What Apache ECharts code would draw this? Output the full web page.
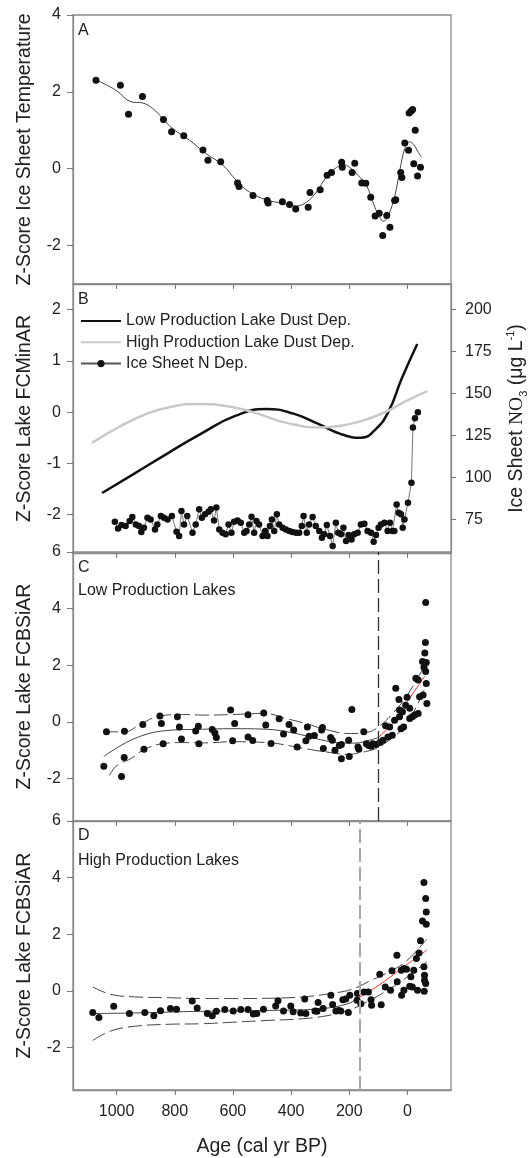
<!DOCTYPE html>
<html>
<head>
<meta charset="utf-8">
<script src="https://cdn.jsdelivr.net/npm/echarts@6.0.0/dist/echarts.min.js"></script>
<style>
  html, body { margin: 0; padding: 0; background: #fff; }
  #chart { width: 530px; height: 1158px; }
</style>
</head>
<body>
<div id="chart"></div>
<script>
// ---- Panel A: ice sheet temperature ----
const tempAge = [1071, 987, 959, 911, 839, 811, 769, 703, 686, 642, 584, 579, 531, 482, 479, 430, 405, 384, 341, 335, 300, 276, 261, 226, 224, 181, 190, 157, 143, 126, 111, 97, 85, 71, 60, 44, 40, 23, 19, 9, -4, -6, -18, -27, -22, -35, -45, -13];
const tempZ = [2.30, 2.17, 1.42, 1.88, 1.28, 0.96, 0.86, 0.49, 0.22, 0.18, -0.37, -0.46, -0.70, -0.83, -0.89, -0.86, -0.93, -1.05, -1.00, -0.62, -0.55, -0.17, -0.10, 0.17, 0.04, 0.14, -0.10, -0.37, -0.38, -0.74, -1.23, -1.16, -1.74, -1.22, -1.52, -0.83, -0.81, -0.10, -0.23, 0.67, 0.48, 1.45, 1.54, 1.00, 0.13, -0.19, 0.04, 1.50];
const tempFitAge = [1065, 1002, 950, 910, 876, 841, 807, 749, 692, 634, 589, 543, 485, 428, 382, 347, 313, 279, 244, 221, 198, 170, 141, 112, 95, 83, 66, 43, 26, 9, -8, -22, -37, -49];
const tempFitZ = [2.29, 2.04, 1.74, 1.71, 1.57, 1.30, 1.04, 0.74, 0.39, 0.09, -0.30, -0.61, -0.81, -0.90, -0.97, -0.87, -0.61, -0.22, 0.03, 0.11, 0.03, -0.17, -0.43, -1.00, -1.26, -1.37, -1.22, -0.70, -0.04, 0.52, 0.70, 0.63, 0.43, 0.30];

// ---- Panel B: dust deposition + ice sheet NO3 ----
const lowDustAge = [1050, 939, 823, 706, 590, 485, 392, 310, 228, 159, 112, 65, 19, -34];
const lowDustZ = [-1.58, -1.20, -0.80, -0.41, -0.07, 0.06, -0.03, -0.22, -0.43, -0.50, -0.35, 0.01, 0.66, 1.33];
const highDustAge = [1085, 998, 904, 823, 718, 613, 520, 415, 298, 205, 124, 65, 7, -69];
const highDustZ = [-0.60, -0.31, -0.05, 0.09, 0.16, 0.11, -0.02, -0.21, -0.30, -0.24, -0.11, 0.03, 0.21, 0.41];
const nAge = [1006, 995, 983, 969, 955, 946, 934, 923, 915, 906,
  894, 883, 868, 860, 848, 837, 825, 810, 794, 785,
  777, 768, 757, 739, 728, 716, 707, 696, 684, 676,
  665, 657, 647, 636, 625, 615, 605, 596, 584, 573,
  561, 553, 544, 536, 527, 519, 510, 498, 489, 481,
  473, 466, 458, 449, 441, 429, 418, 406, 395, 383,
  372, 363, 357, 346, 338, 326, 315, 303, 294, 286,
  277, 266, 257, 246, 238, 228, 220, 211, 202, 192,
  183, 171, 160, 148, 137, 125, 116, 108, 99, 91,
  79, 68, 60, 51, 45, 37, 30, 22, 16, 10,
  -2, -14, -19, -26, -36];
const nNO3 = [73.6, 69.6, 71.6, 71.0, 74.0, 76.4, 72.0, 71.0, 67.5, 70.0,
  76.0, 75.0, 69.0, 72.0, 77.0, 76.0, 75.0, 77.0, 67.7, 65.1,
  80.0, 72.0, 77.0, 67.1, 72.0, 81.0, 76.0, 78.0, 79.6, 81.0,
  74.4, 82.0, 69.0, 67.1, 66.1, 72.0, 67.1, 73.6, 74.4, 73.0,
  67.1, 68.1, 72.0, 76.6, 67.1, 74.0, 72.0, 65.1, 68.1, 65.1,
  71.0, 75.0, 68.1, 78.0, 72.0, 70.0, 69.0, 68.1, 67.5, 67.1,
  67.1, 71.0, 77.0, 67.1, 72.0, 76.4, 71.0, 68.1, 64.1, 66.1,
  71.6, 65.1, 59.1, 73.0, 67.1, 66.1, 70.0, 62.1, 65.7, 63.1,
  66.1, 67.1, 72.0, 72.4, 68.1, 67.1, 61.7, 65.7, 70.0, 72.0,
  73.0, 68.1, 73.0, 68.1, 68.1, 83.9, 79.0, 78.0, 70.0, 75.0,
  84.9, 96.8, 129.6, 135.1, 138.7];

// ---- Panel C: low production lakes BSiAR ----
const lowAge = [1044, 1035, 983, 973, 974, 910, 906, 851, 846, 840, 791, 784, 777, 728, 719, 717, 671, 662, 657, 608,
  594, 601, 548, 548, 532, 494, 487, 469, 441, 426, 407, 391, 379, 344, 349, 338, 320, 295, 292, 289,
  264, 258, 249, 234, 227, 227, 202, 200, 191, 170, 167, 150, 141, 133, 124, 119, 107, 95, 84, 75,
  67, 61, 52, 44, 40, 29, 27, 27, 22, 17, 13, 6, 1, -8, -8, -17, -25, -29, -37, -37,
  -42, -52, -54, -57, -60, -62, -63, -63, -65, -65, -67];
const lowZ = [-1.57, -0.35, -1.93, -0.33, -1.26, -0.09, -0.97, 0.21, -0.06, -0.77, 0.18, -0.18, -0.60, -0.32, -0.15, -0.77, -0.27, -0.39, -0.55, 0.42,
  -0.06, -0.67, 0.25, -0.53, -0.66, 0.31, -0.11, -0.76, 0.11, -0.43, -0.09, -0.29, -0.89, -0.18, -0.67, -0.51, -0.48, -0.29, -0.20, -0.94,
  -0.55, -0.65, -1.00, -0.83, -0.80, -1.30, -0.65, -1.22, 0.44, -0.89, -0.97, -0.35, -0.77, -0.83, -0.86, -0.77, -0.80, -0.73, -0.65, -0.14,
  -0.53, -0.18, -0.47, 0.06, 1.19, 0.79, 0.42, 0.18, -0.24, 0.36, -0.18, 0.59, 0.87, 0.48, 0.12, 0.18, 0.24, 1.54, 1.48, 0.30,
  0.89, 2.13, 0.95, 1.93, 2.43, 2.80, 4.22, 1.78, 2.10, 1.36, 0.65];
const lowFitAge = [1044, 939, 823, 706, 590, 485, 392, 298, 240, 182, 124, 100];
const lowFitZ = [-1.22, -0.59, -0.30, -0.26, -0.24, -0.26, -0.39, -0.63, -0.73, -0.75, -0.63, -0.55];
const lowUpperAge = [1044, 970, 924, 855, 774, 694, 602, 493, 418, 349, 280, 200, 135, 100, 50, 0, -60];
const lowUpperZ = [-0.35, -0.35, -0.12, 0.20, 0.26, 0.24, 0.26, 0.30, 0.12, -0.06, -0.27, -0.41, -0.36, -0.18, 0.30, 0.95, 2.00];
const lowLowerAge = [1025, 998, 952, 906, 843, 774, 694, 602, 469, 407, 349, 280, 200, 170, 124, 100, 50, 0, -60];
const lowLowerZ = [-1.89, -1.53, -1.30, -0.98, -0.77, -0.73, -0.74, -0.70, -0.74, -0.84, -0.95, -1.06, -1.15, -1.10, -1.00, -0.90, -0.55, -0.05, 1.20];
const lowRecentAge = [100, 50, 15, -20, -60];
const lowRecentZ = [-0.55, -0.05, 0.50, 1.02, 1.62];
const lowBreak = 100;

// ---- Panel D: high production lakes BSiAR ----
const highAge = [1082, 1061, 1010, 956, 903, 872, 849, 815, 794, 740, 723, 688, 671, 657, 628, 599, 573, 548, 530, 518,
  495, 453, 445, 426, 401, 393, 367, 353, 349, 318, 311, 307, 290, 263, 257, 246, 236, 229, 222, 212,
  203, 198, 173, 172, 160, 149, 134, 125, 123, 95, 90, 76, 58, 53, 36, 35, 21, 20, 12, 12,
  3, -8, -12, -17, -22, -31, -35, -40, -45, -52, -57, -57, -58, -59, -59, -63, -63, -65, -65];
const highZ = [-0.76, -0.94, -0.54, -0.80, -0.76, -0.88, -0.70, -0.62, -0.65, -0.36, -0.60, -0.80, -0.88, -0.72, -0.66, -0.71, -0.66, -0.66, -0.82, -0.80,
  -0.65, -0.53, -0.35, -0.71, -0.53, -0.74, -0.78, -0.29, -0.80, -0.71, -0.72, -0.41, -0.62, -0.15, -0.48, -0.71, -0.69, -0.71, -0.31, -0.29,
  -0.76, -0.15, -0.33, -0.09, -0.45, -0.04, -0.04, -0.31, -0.51, 0.59, -0.49, 0.14, 0.02, 0.71, 1.26, 0.32, 0.73, -0.15, 0.02, 0.79,
  0.76, 0.16, 0.50, 0.14, 0.73, 1.14, 0.02, 1.34, 1.77, 2.47, 3.83, 0.85, -0.01, 0.55, 0.38, 3.26, 0.26, 2.79, 2.35];
const highFitAge = [1082, 939, 706, 473, 298, 204, 165];
const highFitZ = [-0.80, -0.78, -0.72, -0.69, -0.63, -0.45, -0.23];
const highUpperAge = [1082, 1021, 939, 823, 706, 589, 473, 356, 263, 193, 123, 64, 6, -67];
const highUpperZ = [0.14, -0.12, -0.21, -0.24, -0.27, -0.27, -0.26, -0.21, -0.09, 0.05, 0.38, 0.67, 1.03, 1.83];
const highLowerAge = [1082, 1021, 939, 823, 706, 589, 473, 356, 263, 193, 123, 64, 6, -67];
const highLowerZ = [-1.75, -1.42, -1.25, -1.18, -1.16, -1.10, -1.04, -0.98, -0.85, -0.65, -0.30, 0.05, 0.45, 1.03];
const highRecentAge = [165, 110, 64, 6, -67];
const highRecentZ = [-0.23, 0.12, 0.45, 0.90, 1.44];
const highBreak = 165;

// ---- axis ticks ----
const ageTicks = [0, 200, 400, 600, 800, 1000];
const tempTicks = [-2, 0, 2, 4];
const dustTicks = [-2, -1, 0, 1, 2];
const no3Ticks = [75, 100, 125, 150, 175, 200];
const bsiTicks = [-2, 0, 2, 4, 6];

const FONT = '"Liberation Sans", Arial, sans-serif';
const frameColor = '#8a8a8a';
const textColor = '#222';
const zip = (xs, ys) => xs.map((x, i) => [x, ys[i]]);

const chart = echarts.init(document.getElementById('chart'));

// four stacked panels sharing the same age axis
const grid = [15, 284, 552, 821].map(top => ({
  left: 73, right: 79, top: top, height: 269, outerBoundsMode: 'none',
  show: true, borderColor: frameColor, borderWidth: 1.3
}));

const xAxis = [0, 1, 2, 3].map(i => ({
  type: 'value', gridIndex: i, min: -150, max: 1150, inverse: true,
  axisLine: { show: true, onZero: false, lineStyle: { color: frameColor, width: 1.3 } },
  axisTick: { show: true, inside: false, length: 5, customValues: ageTicks, lineStyle: { color: '#777' } },
  axisLabel: {
    show: i === 3, customValues: ageTicks, fontSize: 16, color: textColor, fontFamily: FONT, margin: 14,
    formatter: v => String(v)
  },
  splitLine: { show: false },
  name: i === 3 ? 'Age (cal yr BP)' : '',
  nameLocation: 'middle', nameGap: 47,
  nameTextStyle: { fontSize: 19.5, color: textColor, fontFamily: FONT }
}));

function leftAxis(gridIndex, min, max, ticks, name) {
  return {
    type: 'value', gridIndex, min, max, position: 'left',
    axisLine: { show: true, onZero: false, lineStyle: { color: frameColor, width: 1.3 } },
    axisTick: { show: true, inside: false, length: 6, customValues: ticks, lineStyle: { color: '#777' } },
    axisLabel: { customValues: ticks, fontSize: 16, color: textColor, fontFamily: FONT, margin: 12 },
    splitLine: { show: false },
    name, nameLocation: 'middle', nameRotate: 90, nameGap: 38.5,
    nameTextStyle: { fontSize: 19.5, color: textColor, fontFamily: FONT }
  };
}

const yAxis = [
  leftAxis(0, -3, 4, tempTicks, 'Z-Score Ice Sheet Temperature'),
  leftAxis(1, -2.75, 2.5, dustTicks, 'Z-Score Lake FCMinAR'),
  {
    type: 'value', gridIndex: 1, min: 55, max: 215, position: 'right',
    axisLine: { show: true, onZero: false, lineStyle: { color: frameColor, width: 1.3 } },
    axisTick: { show: true, inside: false, length: 5, customValues: no3Ticks, lineStyle: { color: '#777' } },
    axisLabel: { customValues: no3Ticks, fontSize: 16, color: textColor, fontFamily: FONT, margin: 14 },
    splitLine: { show: false },
    name: '{a|Ice Sheet }{n|NO}{sub|3}{a| (\u03bcg L}{sup|-1}{a|)}',
    nameLocation: 'middle', nameRotate: 90, nameGap: 54,
    nameTextStyle: {
      rich: {
        a: { fontSize: 19.5, fontFamily: FONT, color: textColor, lineHeight: 24 },
        n: { fontSize: 19.5, fontFamily: '"Liberation Serif", serif', color: textColor, lineHeight: 24 },
        sub: { fontSize: 11, fontFamily: FONT, color: textColor, lineHeight: 24, verticalAlign: 'bottom' },
        sup: { fontSize: 11, fontFamily: FONT, color: textColor, lineHeight: 24, verticalAlign: 'top' }
      }
    }
  },
  leftAxis(2, -3.5, 6, bsiTicks, 'Z-Score Lake FCBSiAR'),
  leftAxis(3, -3.5, 6, bsiTicks, 'Z-Score Lake FCBSiAR')
];

function fitLine(xi, yi, xs, ys, color, dashed, width) {
  return {
    type: 'line', xAxisIndex: xi, yAxisIndex: yi, data: zip(xs, ys),
    smooth: 0.4, symbol: 'none', silent: true, z: 2,
    lineStyle: { color, width: width || 1, type: dashed ? [14, 5] : 'solid' }
  };
}
function dots(xi, yi, xs, ys) {
  return {
    type: 'scatter', xAxisIndex: xi, yAxisIndex: yi, data: zip(xs, ys),
    symbolSize: 7, itemStyle: { color: '#111', opacity: 1 }, z: 4, silent: true
  };
}
function breakLine(xi, yi, at, color, width) {
  return {
    type: 'line', xAxisIndex: xi, yAxisIndex: yi, data: [], silent: true,
    markLine: {
      silent: true, symbol: 'none', label: { show: false },
      lineStyle: { color, width, type: [14, 5] },
      data: [{ xAxis: at }]
    }
  };
}

const series = [
  // A
  fitLine(0, 0, tempFitAge, tempFitZ, '#444', false, 1),
  dots(0, 0, tempAge, tempZ),
  // B
  {
    name: 'Low Production Lake Dust Dep.', type: 'line', xAxisIndex: 1, yAxisIndex: 1,
    data: zip(lowDustAge, lowDustZ), smooth: 0.5, symbol: 'none',
    lineStyle: { color: '#111', width: 2.5 }, itemStyle: { color: '#111' }
  },
  {
    name: 'High Production Lake Dust Dep.', type: 'line', xAxisIndex: 1, yAxisIndex: 1,
    data: zip(highDustAge, highDustZ), smooth: 0.5, symbol: 'none',
    lineStyle: { color: '#c8c8c8', width: 2.5 }, itemStyle: { color: '#c8c8c8' }
  },
  {
    name: 'Ice Sheet N Dep.', type: 'line', xAxisIndex: 1, yAxisIndex: 2,
    data: zip(nAge, nNO3), symbol: 'circle', symbolSize: 6.5, showSymbol: true,
    lineStyle: { color: '#555', width: 0.8 }, itemStyle: { color: '#111', opacity: 1 }, z: 4
  },
  // C
  fitLine(2, 3, lowFitAge, lowFitZ, '#444', false, 1),
  fitLine(2, 3, lowUpperAge, lowUpperZ, '#444', true, 1),
  fitLine(2, 3, lowLowerAge, lowLowerZ, '#444', true, 1),
  fitLine(2, 3, lowRecentAge, lowRecentZ, '#e8322c', false, 1),
  breakLine(2, 3, lowBreak, '#333', 1.3),
  dots(2, 3, lowAge, lowZ),
  // D
  fitLine(3, 4, highFitAge, highFitZ, '#444', false, 1),
  fitLine(3, 4, highUpperAge, highUpperZ, '#444', true, 1),
  fitLine(3, 4, highLowerAge, highLowerZ, '#444', true, 1),
  fitLine(3, 4, highRecentAge, highRecentZ, '#e8322c', false, 1),
  breakLine(3, 4, highBreak, '#a6a6a6', 2),
  dots(3, 4, highAge, highZ)
];

const panelText = (x, y, text) => ({
  type: 'text', x, y, silent: true, z: 10,
  style: { text, fontSize: 16, fontFamily: FONT, fill: textColor, verticalAlign: 'middle' }
});

chart.setOption({
  backgroundColor: '#fff',
  animation: false,
  grid, xAxis, yAxis, series,
  legend: {
    data: [
      { name: 'Low Production Lake Dust Dep.', itemStyle: { opacity: 0 } },
      { name: 'High Production Lake Dust Dep.', itemStyle: { opacity: 0 } },
      { name: 'Ice Sheet N Dep.' }
    ],
    orient: 'vertical', left: 80, top: 313, padding: 0,
    itemWidth: 40, itemHeight: 9, itemGap: 5.3, selectedMode: false,
    textStyle: { fontSize: 16, color: textColor, fontFamily: FONT, lineHeight: 16 }
  },
  graphic: [
    panelText(78, 30.5, 'A'),
    panelText(78, 300, 'B'),
    panelText(78, 567.5, 'C'),
    panelText(78, 591, 'Low Production Lakes'),
    panelText(78, 836, 'D'),
    panelText(78, 860.5, 'High Production Lakes')
  ]
});
</script>
</body>
</html>
